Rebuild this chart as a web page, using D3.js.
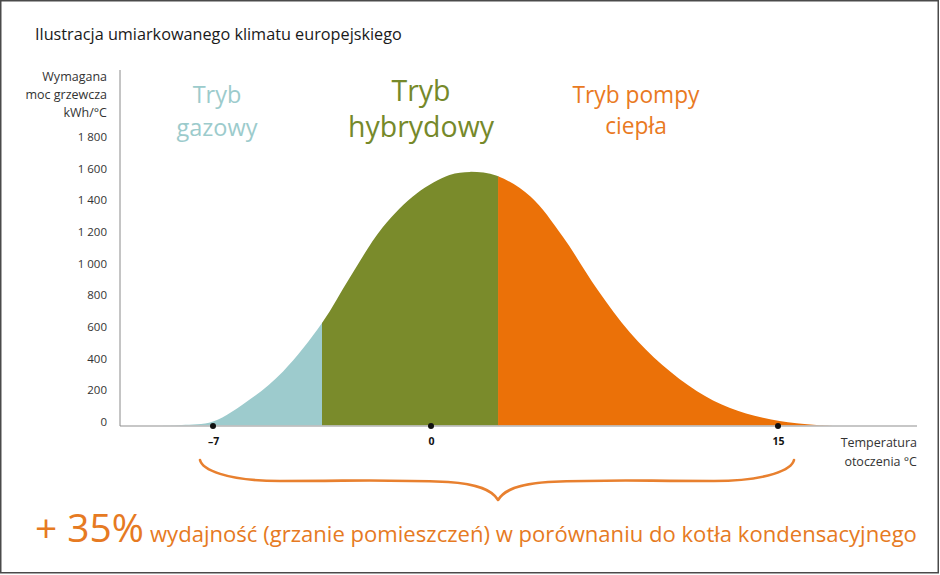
<!DOCTYPE html>
<html>
<head>
<meta charset="utf-8">
<script src="https://cdn.jsdelivr.net/npm/d3@7/dist/d3.min.js"></script>
<style>
  html, body { margin: 0; padding: 0; background: #fff; }
  svg { display: block; font-family: "Open Sans", "Noto Sans", sans-serif; }
</style>
</head>
<body>
<svg id="chart" width="940" height="575"></svg>
<script>
// ---------- DATA ----------
const title = "Ilustracja umiarkowanego klimatu europejskiego";
const yAxisTitle = ["Wymagana", "moc grzewcza", "kWh/°C"];
const xAxisTitle = ["Temperatura", "otoczenia °C"];
const yTicks = [0, 200, 400, 600, 800, 1000, 1200, 1400, 1600, 1800];
const xTicks = [-7, 0, 15];
// outdoor temperature (°C) and required heating power
const temps = [-8.7, -8.0, -7.0, -5.8, -4.75, -3.5, -2.6, -1.55, -0.45, 0.8, 1.7, 2.85, 4.3, 5.7, 7.2, 8.6, 10.0, 11.5, 12.9, 14.35, 15.8, 17.4];
const power = [0, 6, 28, 170, 345, 650, 940, 1255, 1470, 1585, 1605, 1580, 1450, 1195, 860, 590, 385, 220, 115, 52, 17, 0];
// operating modes and their temperature boundaries
const modeNames = [["Tryb", "gazowy"], ["Tryb", "hybrydowy"], ["Tryb pompy", "ciepła"]];
const modeBounds = [-8.7, -3.5, 2.9, 17.4];
const modeColors = ["#9dcbcd", "#7a8b2b", "#eb7108"];
const modeTextColors = ["#9ccbcc", "#76892a", "#e97a1f"];
const bottomBig = "+ 35%";
const bottomText = "wydajność (grzanie pomieszczeń) w porównaniu do kotła kondensacyjnego";

// ---------- SCALES ----------
const svg = d3.select("#chart");
const x = d3.scaleLinear().domain([-7, 0, 15]).range([213, 431, 778]);
const y = d3.scaleLinear().domain([0, 1800]).range([426, 141]);

function fit(sel, w) {
  const n = sel.node();
  const fs = parseFloat(sel.attr("font-size"));
  const cur = n.getComputedTextLength();
  sel.attr("font-size", (fs * w / cur).toFixed(2));
  return fs * w / cur;
}

// frame
svg.append("rect").attr("x", 0.75).attr("y", 0.75).attr("width", 937.5).attr("height", 572)
  .attr("fill", "none").attr("stroke", "#4a4a4a").attr("stroke-width", 1.5);

// title
const t = svg.append("text").attr("x", 35).attr("y", 40).attr("font-size", 16).attr("fill", "#1a1a1a").text(title);
fit(t, 367);

// ---------- AREA ----------
const pts = temps.map((d, i) => [d, power[i]]);
const area = d3.area().x(d => x(d[0])).y0(y(0)).y1(d => y(Math.max(0, d[1])))
  .curve(d3.curveCatmullRom.alpha(0.5));
const defs = svg.append("defs");
modeColors.forEach((c, i) => {
  defs.append("clipPath").attr("id", "clip" + i).append("rect")
    .attr("x", x(modeBounds[i])).attr("y", 0)
    .attr("width", x(modeBounds[i + 1]) - x(modeBounds[i]) + (i === 2 ? 20 : 0.5)).attr("height", y(0) - 0.5);
  svg.append("path").datum(pts).attr("d", area).attr("fill", c).attr("clip-path", `url(#clip${i})`);
});

// ---------- AXES ----------
// baseline
svg.append("line").attr("x1", 120).attr("x2", 917).attr("y1", y(0)).attr("y2", y(0))
  .attr("stroke", "#b5b5b5").attr("stroke-width", 1.5);
// y axis line
svg.append("line").attr("x1", 120).attr("x2", 120).attr("y1", 70).attr("y2", y(0))
  .attr("stroke", "#8a8a8a").attr("stroke-width", 1);

const yAxis = svg.append("g").attr("transform", "translate(120,0)")
  .call(d3.axisLeft(y).tickValues(yTicks).tickSize(0).tickPadding(13)
    .tickFormat(d => d3.format(",")(d).replace(",", " ")));
yAxis.select(".domain").remove();
yAxis.selectAll("text").attr("font-size", 11.5).attr("fill", "#333").attr("dy", "-0.05em")
  .attr("font-family", "\"Open Sans\", sans-serif");

const yt = svg.append("text").attr("text-anchor", "end").attr("font-size", 12.5).attr("fill", "#333");
yAxisTitle.forEach((s, i) => yt.append("tspan").attr("x", 107).attr("y", 81 + i * 18).text(s));

const xAxis = svg.append("g").attr("transform", `translate(0,${y(0)})`)
  .call(d3.axisBottom(x).tickValues(xTicks).tickSize(0).tickPadding(12)
    .tickFormat(d => d < 0 ? "–" + Math.abs(d) : d));
xAxis.select(".domain").remove();
xAxis.selectAll("text").attr("font-size", 10.5).attr("font-weight", 700).attr("fill", "#111")
  .attr("font-family", "\"Open Sans\", sans-serif");
svg.selectAll("circle.dot").data(xTicks).enter().append("circle").attr("class", "dot")
  .attr("cx", d => x(d)).attr("cy", y(0)).attr("r", 3).attr("fill", "#111");

const xt = svg.append("text").attr("text-anchor", "end").attr("font-size", 12.5).attr("fill", "#333");
xAxisTitle.forEach((s, i) => xt.append("tspan").attr("x", 917).attr("y", 447 + i * 19).text(s));

// ---------- MODE LABELS ----------
const modeCx = [217, 421, 636];
const modeW = [81, 146, 127];
const modeBase = [[103, 136], [101, 137], [103, 134]];
modeNames.forEach((lines, i) => {
  const widest = i === 2 ? 0 : 1;
  const tmp = svg.append("text").attr("font-size", 24).text(lines[widest]);
  const fs = fit(tmp, modeW[i]);
  tmp.remove();
  lines.forEach((s, j) => svg.append("text").attr("text-anchor", "middle")
    .attr("fill", modeTextColors[i]).attr("font-size", fs.toFixed(2))
    .attr("x", modeCx[i]).attr("y", modeBase[i][j]).text(s));
});

// ---------- BRACE ----------
const bL = x(-7) - 13, bR = x(15) + 16, tip = x(modeBounds[2]), bTop = 460, bMid = 481, bBot = 500;
const brace = `M${bL},${bTop} C${bL + 2},${bMid - 12} ${bL + 25},${bMid} ${bL + 80},${bMid}
  C${bL + 160},${bMid} ${tip - 120},${bMid - 2} ${tip - 50},${bMid + 1}
  C${tip - 20},${bMid + 3} ${tip - 6},${bBot - 10} ${tip},${bBot}
  C${tip + 6},${bBot - 10} ${tip + 20},${bMid + 3} ${tip + 50},${bMid + 1}
  C${tip + 120},${bMid - 2} ${bR - 160},${bMid} ${bR - 80},${bMid}
  C${bR - 25},${bMid} ${bR - 2},${bMid - 12} ${bR},${bTop}`;
svg.append("path").attr("d", brace).attr("fill", "none").attr("stroke", "#e8802f")
  .attr("stroke-width", 2.6).attr("stroke-linecap", "round").attr("stroke-linejoin", "round");

// ---------- BOTTOM TEXT ----------
const big = svg.append("text").attr("x", 35).attr("y", 542).attr("font-size", 38).attr("fill", "#e67a22").text(bottomBig);
fit(big, 109);
const small = svg.append("text").attr("x", 150).attr("y", 542).attr("font-size", 22).attr("fill", "#e67a22").text(bottomText);
fit(small, 767);
</script>
</body>
</html>
